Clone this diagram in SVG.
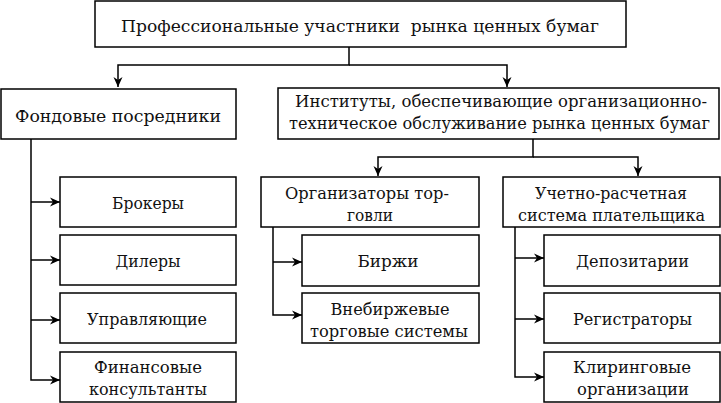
<svg xmlns="http://www.w3.org/2000/svg" width="721" height="403" viewBox="0 0 721 403">
<defs>
<marker id="ah" viewBox="0 0 10 10" refX="10" refY="5" markerWidth="10" markerHeight="10" markerUnits="userSpaceOnUse" orient="auto">
<path d="M0,0.5 L10,5 L0,9.5 L3,5 Z" fill="#000"/>
</marker>
<style>
.b{fill:#fff;stroke:#000;stroke-width:1.5}
.t{font-family:"DejaVu Serif","Liberation Serif",serif;font-size:17px;fill:#111;text-anchor:middle}
.c{fill:none;stroke:#000;stroke-width:1.5}
</style>
</defs>
<rect width="721" height="403" fill="#fff"/>
<g id="connectors">
<path class="c" d="M349,47 V65 H118 V87" marker-end="url(#ah)"/>
<path class="c" d="M349,65 H507 V87" marker-end="url(#ah)"/>
<path class="c" d="M31,139 V380 H60" marker-end="url(#ah)"/>
<path class="c" d="M31,202 H60" marker-end="url(#ah)"/>
<path class="c" d="M31,260 H60" marker-end="url(#ah)"/>
<path class="c" d="M31,320 H60" marker-end="url(#ah)"/>
<path class="c" d="M533,139 V157 H378 V176" marker-end="url(#ah)"/>
<path class="c" d="M533,157 H638 V176" marker-end="url(#ah)"/>
<path class="c" d="M273,227 V315 H302" marker-end="url(#ah)"/>
<path class="c" d="M273,262 H302" marker-end="url(#ah)"/>
<path class="c" d="M515,227 V377 H544" marker-end="url(#ah)"/>
<path class="c" d="M515,258 H544" marker-end="url(#ah)"/>
<path class="c" d="M515,319 H544" marker-end="url(#ah)"/>
</g>
<g id="n_root"><rect class="b" x="95" y="1" width="531" height="46"/><text class="t" x="360" y="32" xml:space="preserve" textLength="478" lengthAdjust="spacingAndGlyphs">Профессиональные участники  рынка ценных бумаг</text></g>
<g id="n_fond"><rect class="b" x="1" y="89" width="235" height="50"/><text class="t" x="118" y="122" textLength="206" lengthAdjust="spacingAndGlyphs">Фондовые посредники</text></g>
<g id="n_inst"><rect class="b" x="278" y="88" width="441" height="51"/><text class="t" x="501" y="107" textLength="412" lengthAdjust="spacingAndGlyphs">Институты, обеспечивающие организационно-</text><text class="t" x="499.5" y="129" textLength="421" lengthAdjust="spacingAndGlyphs">техническое обслуживание рынка ценных бумаг</text></g>
<g id="n_brok"><rect class="b" x="60" y="177" width="176" height="50"/><text class="t" x="148" y="209" textLength="72" lengthAdjust="spacingAndGlyphs">Брокеры</text></g>
<g id="n_dil"><rect class="b" x="60" y="235" width="176" height="50"/><text class="t" x="148" y="267" textLength="65" lengthAdjust="spacingAndGlyphs">Дилеры</text></g>
<g id="n_upr"><rect class="b" x="60" y="293" width="176" height="50"/><text class="t" x="147" y="325" textLength="120" lengthAdjust="spacingAndGlyphs">Управляющие</text></g>
<g id="n_fin"><rect class="b" x="60" y="352" width="176" height="50"/><text class="t" x="148" y="373" textLength="108" lengthAdjust="spacingAndGlyphs">Финансовые</text><text class="t" x="148" y="395" textLength="118" lengthAdjust="spacingAndGlyphs">консультанты</text></g>
<g id="n_org"><rect class="b" x="261" y="177" width="218" height="50"/><text class="t" x="367" y="199" textLength="164" lengthAdjust="spacingAndGlyphs">Организаторы тор-</text><text class="t" x="370" y="221" textLength="46" lengthAdjust="spacingAndGlyphs">говли</text></g>
<g id="n_uch"><rect class="b" x="503" y="177" width="217" height="50"/><text class="t" x="611" y="199" textLength="152" lengthAdjust="spacingAndGlyphs">Учетно-расчетная</text><text class="t" x="611.5" y="221" textLength="187" lengthAdjust="spacingAndGlyphs">система плательщика</text></g>
<g id="n_bir"><rect class="b" x="302" y="235" width="177" height="51"/><text class="t" x="388" y="267" textLength="61" lengthAdjust="spacingAndGlyphs">Биржи</text></g>
<g id="n_vne"><rect class="b" x="302" y="293" width="177" height="50"/><text class="t" x="390" y="315" textLength="119" lengthAdjust="spacingAndGlyphs">Внебиржевые</text><text class="t" x="389" y="337" textLength="158" lengthAdjust="spacingAndGlyphs">торговые системы</text></g>
<g id="n_dep"><rect class="b" x="544" y="235" width="176" height="51"/><text class="t" x="632.5" y="267" textLength="113" lengthAdjust="spacingAndGlyphs">Депозитарии</text></g>
<g id="n_reg"><rect class="b" x="544" y="293" width="176" height="50"/><text class="t" x="632.5" y="325" textLength="119" lengthAdjust="spacingAndGlyphs">Регистраторы</text></g>
<g id="n_kli"><rect class="b" x="544" y="352" width="176" height="50"/><text class="t" x="632" y="373" textLength="118" lengthAdjust="spacingAndGlyphs">Клиринговые</text><text class="t" x="633" y="395" textLength="112" lengthAdjust="spacingAndGlyphs">организации</text></g>
</svg>
